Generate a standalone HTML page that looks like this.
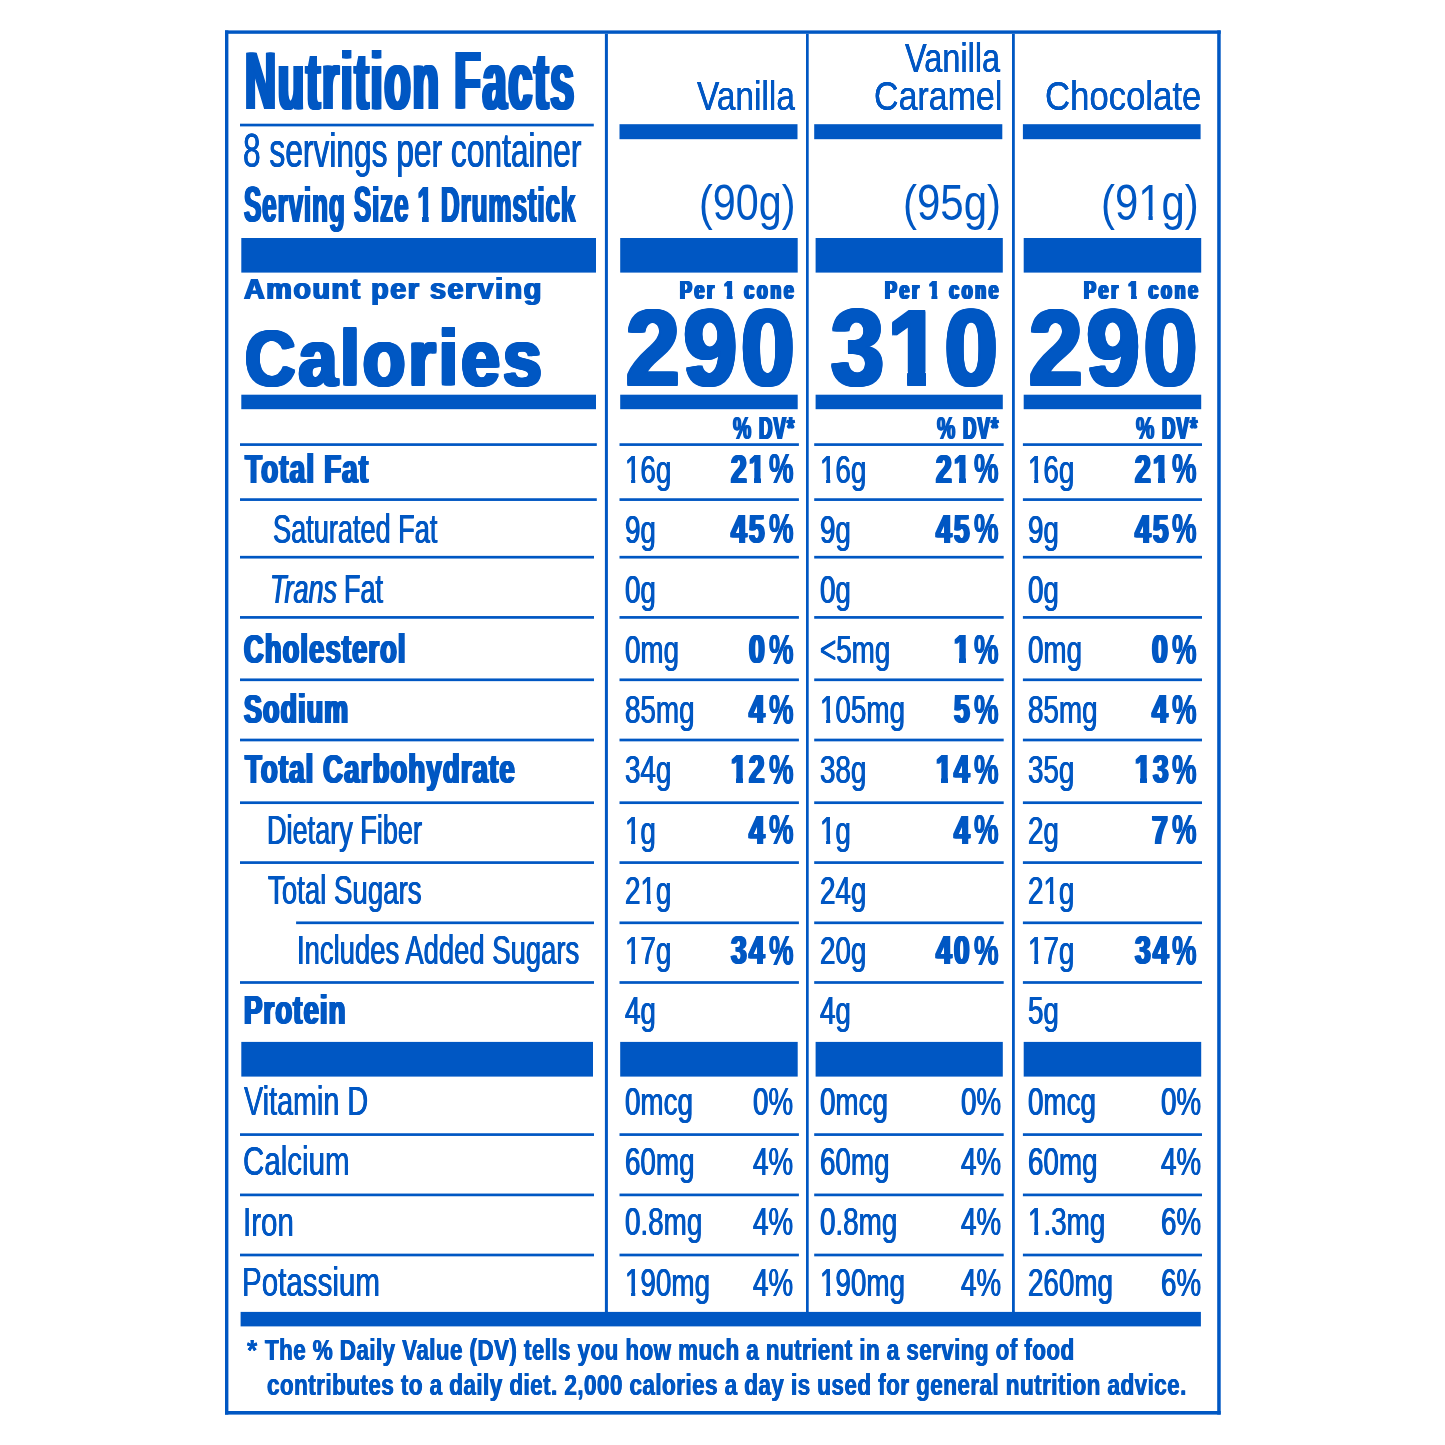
<!DOCTYPE html>
<html lang="en"><head><meta charset="utf-8"><title>Nutrition Facts</title>
<style>
html,body{margin:0;padding:0;background:#fff}
body{width:1445px;height:1445px;position:relative;overflow:hidden;font-family:"Liberation Sans",sans-serif;color:#0057c3}
.t{position:absolute;white-space:nowrap;line-height:1;transform-origin:0 0;color:#0057c3}
.g{position:absolute;left:0;top:0;fill:#0057c3}
.o{display:inline-block}
</style></head><body>
<svg class="g" width="1445" height="1445" viewBox="0 0 1445 1445">
<rect x="225.00" y="30.40" width="995.70" height="3.40"/>
<rect x="225.00" y="1411.00" width="995.70" height="3.60"/>
<rect x="225.00" y="30.40" width="3.40" height="1384.20"/>
<rect x="1217.20" y="30.40" width="3.50" height="1384.20"/>
<rect x="604.90" y="33.80" width="3.00" height="1279.20"/>
<rect x="806.00" y="33.80" width="2.70" height="1279.20"/>
<rect x="1012.00" y="33.80" width="2.80" height="1279.20"/>
<rect x="240.00" y="123.70" width="353.80" height="2.70"/>
<rect x="619.50" y="124.20" width="178.00" height="15.00"/>
<rect x="814.20" y="124.20" width="188.10" height="15.00"/>
<rect x="1022.90" y="124.20" width="177.70" height="15.00"/>
<rect x="241.30" y="238.00" width="354.70" height="34.60"/>
<rect x="620.20" y="238.00" width="177.50" height="34.60"/>
<rect x="815.60" y="238.00" width="187.20" height="34.60"/>
<rect x="1023.70" y="238.00" width="177.50" height="34.60"/>
<rect x="241.30" y="394.70" width="354.70" height="14.50"/>
<rect x="620.20" y="394.70" width="177.50" height="14.50"/>
<rect x="815.60" y="394.70" width="187.20" height="14.50"/>
<rect x="1023.70" y="394.70" width="177.50" height="14.50"/>
<rect x="240.00" y="443.25" width="356.80" height="2.70"/>
<rect x="619.50" y="443.25" width="179.40" height="2.70"/>
<rect x="814.20" y="443.25" width="189.50" height="2.70"/>
<rect x="1022.90" y="443.25" width="179.10" height="2.70"/>
<rect x="240.00" y="498.25" width="356.80" height="2.70"/>
<rect x="619.50" y="498.25" width="179.40" height="2.70"/>
<rect x="814.20" y="498.25" width="189.50" height="2.70"/>
<rect x="1022.90" y="498.25" width="179.10" height="2.70"/>
<rect x="240.00" y="555.85" width="354.00" height="2.70"/>
<rect x="619.50" y="555.85" width="179.40" height="2.70"/>
<rect x="814.20" y="555.85" width="189.50" height="2.70"/>
<rect x="1022.90" y="555.85" width="179.10" height="2.70"/>
<rect x="240.00" y="616.05" width="354.00" height="2.70"/>
<rect x="619.50" y="616.05" width="179.40" height="2.70"/>
<rect x="814.20" y="616.05" width="189.50" height="2.70"/>
<rect x="1022.90" y="616.05" width="179.10" height="2.70"/>
<rect x="240.00" y="678.45" width="354.00" height="2.70"/>
<rect x="619.50" y="678.45" width="179.40" height="2.70"/>
<rect x="814.20" y="678.45" width="189.50" height="2.70"/>
<rect x="1022.90" y="678.45" width="179.10" height="2.70"/>
<rect x="240.00" y="738.65" width="354.00" height="2.70"/>
<rect x="619.50" y="738.65" width="179.40" height="2.70"/>
<rect x="814.20" y="738.65" width="189.50" height="2.70"/>
<rect x="1022.90" y="738.65" width="179.10" height="2.70"/>
<rect x="240.00" y="801.35" width="354.00" height="2.70"/>
<rect x="619.50" y="801.35" width="179.40" height="2.70"/>
<rect x="814.20" y="801.35" width="189.50" height="2.70"/>
<rect x="1022.90" y="801.35" width="179.10" height="2.70"/>
<rect x="240.00" y="861.25" width="354.00" height="2.70"/>
<rect x="619.50" y="861.25" width="179.40" height="2.70"/>
<rect x="814.20" y="861.25" width="189.50" height="2.70"/>
<rect x="1022.90" y="861.25" width="179.10" height="2.70"/>
<rect x="296.10" y="921.45" width="297.90" height="2.70"/>
<rect x="619.50" y="921.45" width="179.40" height="2.70"/>
<rect x="814.20" y="921.45" width="189.50" height="2.70"/>
<rect x="1022.90" y="921.45" width="179.10" height="2.70"/>
<rect x="240.00" y="981.15" width="354.00" height="2.70"/>
<rect x="619.50" y="981.15" width="179.40" height="2.70"/>
<rect x="814.20" y="981.15" width="189.50" height="2.70"/>
<rect x="1022.90" y="981.15" width="179.10" height="2.70"/>
<rect x="241.30" y="1041.90" width="351.70" height="34.70"/>
<rect x="620.20" y="1041.90" width="177.50" height="34.70"/>
<rect x="815.60" y="1041.90" width="187.20" height="34.70"/>
<rect x="1023.70" y="1041.90" width="177.50" height="34.70"/>
<rect x="240.00" y="1133.25" width="354.00" height="2.70"/>
<rect x="619.50" y="1133.25" width="179.40" height="2.70"/>
<rect x="814.20" y="1133.25" width="189.50" height="2.70"/>
<rect x="1022.90" y="1133.25" width="179.10" height="2.70"/>
<rect x="240.00" y="1193.55" width="354.00" height="2.70"/>
<rect x="619.50" y="1193.55" width="179.40" height="2.70"/>
<rect x="814.20" y="1193.55" width="189.50" height="2.70"/>
<rect x="1022.90" y="1193.55" width="179.10" height="2.70"/>
<rect x="240.00" y="1253.65" width="354.00" height="2.70"/>
<rect x="619.50" y="1253.65" width="179.40" height="2.70"/>
<rect x="814.20" y="1253.65" width="189.50" height="2.70"/>
<rect x="1022.90" y="1253.65" width="179.10" height="2.70"/>
<rect x="240.60" y="1311.90" width="960.30" height="14.50"/>
</svg>
<div class="t" style="left:244.65px;top:40.00px;font-size:81.83px;transform:scaleX(0.5255);font-weight:700;text-shadow:3.50px 0.00px 0 #0057c3,-3.50px 0.00px 0 #0057c3,1.75px 0.00px 0 #0057c3,-1.75px 0.00px 0 #0057c3;letter-spacing:3.50px">Nutrition Facts</div>
<div class="t" style="left:243.38px;top:126.00px;font-size:48.57px;transform:scaleX(0.6528);text-shadow:0.57px 0.00px 0 #0057c3,-0.57px 0.00px 0 #0057c3">8 servings per container</div>
<div class="t" style="left:244.07px;top:180.00px;font-size:49.27px;transform:scaleX(0.5286);font-weight:700;text-shadow:1.66px 0.00px 0 #0057c3,-1.66px 0.00px 0 #0057c3,0.83px 0.00px 0 #0057c3,-0.83px 0.00px 0 #0057c3;letter-spacing:1.66px">Serving Size <span class="o" style="clip-path:polygon(-999px -999px,999px -999px,999px 35.77px,20.27px 35.77px,20.27px 999px,9.49px 999px,9.49px 35.77px,-999px 35.77px)">1</span> Drumstick</div>
<div class="t" style="left:243.78px;top:274.00px;font-size:30.23px;transform:scaleX(0.9526);font-weight:700;text-shadow:0.98px 0.00px 0 #0057c3,-0.98px 0.00px 0 #0057c3;letter-spacing:1.57px">Amount per serving</div>
<div class="t" style="left:245.04px;top:319.00px;font-size:78.20px;transform:scaleX(0.8920);font-weight:700;text-shadow:0.00px 1.00px 0 #0057c3,0.00px -1.00px 0 #0057c3,1.92px 0.00px 0 #0057c3,1.92px 1.00px 0 #0057c3,1.92px -1.00px 0 #0057c3,-1.92px 0.00px 0 #0057c3,-1.92px 1.00px 0 #0057c3,-1.92px -1.00px 0 #0057c3,0.96px 0.00px 0 #0057c3,0.96px 1.00px 0 #0057c3,0.96px -1.00px 0 #0057c3,-0.96px 0.00px 0 #0057c3,-0.96px 1.00px 0 #0057c3,-0.96px -1.00px 0 #0057c3;letter-spacing:3.46px">Calories</div>
<div class="t" style="left:696.75px;top:76.00px;font-size:40.55px;transform:scaleX(0.8246);text-shadow:0.18px 0.00px 0 #0057c3,-0.18px 0.00px 0 #0057c3">Vanilla</div>
<div class="t" style="left:905.19px;top:38.00px;font-size:40.55px;transform:scaleX(0.8012);text-shadow:0.23px 0.00px 0 #0057c3,-0.23px 0.00px 0 #0057c3">Vanilla</div>
<div class="t" style="left:874.43px;top:76.00px;font-size:40.55px;transform:scaleX(0.8378);text-shadow:0.14px 0.00px 0 #0057c3,-0.14px 0.00px 0 #0057c3">Caramel</div>
<div class="t" style="left:1044.56px;top:76.00px;font-size:40.55px;transform:scaleX(0.8563);text-shadow:0.10px 0.00px 0 #0057c3,-0.10px 0.00px 0 #0057c3">Chocolate</div>
<div class="t" style="left:698.86px;top:178.00px;font-size:50.43px;transform:scaleX(0.8195)">(90g)</div>
<div class="t" style="left:902.63px;top:178.00px;font-size:50.43px;transform:scaleX(0.8328)">(95g)</div>
<div class="t" style="left:1101.44px;top:178.00px;font-size:50.43px;transform:scaleX(0.8302)">(9<span class="o" style="clip-path:polygon(-999px -999px,999px -999px,999px 37.03px,17.49px 37.03px,17.49px 999px,12.33px 999px,12.33px 37.03px,-999px 37.03px)">1</span>g)</div>
<div class="t" style="left:680.48px;top:277.00px;font-size:26.60px;transform:scaleX(0.6694);font-weight:700;text-shadow:1.79px 0.00px 0 #0057c3,-1.79px 0.00px 0 #0057c3,0.89px 0.00px 0 #0057c3,-0.89px 0.00px 0 #0057c3;letter-spacing:3.93px">Per <span class="o" style="clip-path:polygon(-999px -999px,999px -999px,999px 18.09px,12.00px 18.09px,12.00px 999px,4.07px 999px,4.07px 18.09px,-999px 18.09px)">1</span> cone</div>
<div class="t" style="left:885.49px;top:277.00px;font-size:26.60px;transform:scaleX(0.6672);font-weight:700;text-shadow:1.80px 0.00px 0 #0057c3,-1.80px 0.00px 0 #0057c3,0.90px 0.00px 0 #0057c3,-0.90px 0.00px 0 #0057c3;letter-spacing:3.96px">Per <span class="o" style="clip-path:polygon(-999px -999px,999px -999px,999px 18.09px,12.01px 18.09px,12.01px 999px,4.06px 999px,4.06px 18.09px,-999px 18.09px)">1</span> cone</div>
<div class="t" style="left:1083.67px;top:277.00px;font-size:26.60px;transform:scaleX(0.6726);font-weight:700;text-shadow:1.77px 0.00px 0 #0057c3,-1.77px 0.00px 0 #0057c3,0.89px 0.00px 0 #0057c3,-0.89px 0.00px 0 #0057c3;letter-spacing:3.90px">Per <span class="o" style="clip-path:polygon(-999px -999px,999px -999px,999px 18.09px,11.98px 18.09px,11.98px 999px,4.09px 999px,4.09px 18.09px,-999px 18.09px)">1</span> cone</div>
<div class="t" style="left:625.85px;top:294.00px;font-size:107.85px;transform:scaleX(0.8929);font-weight:700;text-shadow:0.00px 1.00px 0 #0057c3,0.00px -1.00px 0 #0057c3,2.19px 0.00px 0 #0057c3,2.19px 1.00px 0 #0057c3,2.19px -1.00px 0 #0057c3,-2.19px 0.00px 0 #0057c3,-2.19px 1.00px 0 #0057c3,-2.19px -1.00px 0 #0057c3,1.10px 0.00px 0 #0057c3,1.10px 1.00px 0 #0057c3,1.10px -1.00px 0 #0057c3,-1.10px 0.00px 0 #0057c3,-1.10px 1.00px 0 #0057c3,-1.10px -1.00px 0 #0057c3;letter-spacing:4.39px">290</div>
<div class="t" style="left:831.47px;top:294.00px;font-size:107.85px;transform:scaleX(0.8804);font-weight:700;text-shadow:0.00px 1.00px 0 #0057c3,0.00px -1.00px 0 #0057c3,2.33px 0.00px 0 #0057c3,2.33px 1.00px 0 #0057c3,2.33px -1.00px 0 #0057c3,-2.33px 0.00px 0 #0057c3,-2.33px 1.00px 0 #0057c3,-2.33px -1.00px 0 #0057c3,1.17px 0.00px 0 #0057c3,1.17px 1.00px 0 #0057c3,1.17px -1.00px 0 #0057c3,-1.17px 0.00px 0 #0057c3,-1.17px 1.00px 0 #0057c3,-1.17px -1.00px 0 #0057c3;letter-spacing:4.66px">3<span class="o" style="clip-path:polygon(-999px -999px,999px -999px,999px 77.79px,42.65px 77.79px,42.65px 999px,22.49px 999px,22.49px 77.79px,-999px 77.79px)">1</span>0</div>
<div class="t" style="left:1029.37px;top:294.00px;font-size:107.85px;transform:scaleX(0.8913);font-weight:700;text-shadow:0.00px 1.00px 0 #0057c3,0.00px -1.00px 0 #0057c3,2.21px 0.00px 0 #0057c3,2.21px 1.00px 0 #0057c3,2.21px -1.00px 0 #0057c3,-2.21px 0.00px 0 #0057c3,-2.21px 1.00px 0 #0057c3,-2.21px -1.00px 0 #0057c3,1.11px 0.00px 0 #0057c3,1.11px 1.00px 0 #0057c3,1.11px -1.00px 0 #0057c3,-1.11px 0.00px 0 #0057c3,-1.11px 1.00px 0 #0057c3,-1.11px -1.00px 0 #0057c3;letter-spacing:4.42px">290</div>
<div class="t" style="left:733.09px;top:414.00px;font-size:30.86px;transform:scaleX(0.6667);font-weight:700;text-shadow:1.06px 0.00px 0 #0057c3,-1.06px 0.00px 0 #0057c3">%</div>
<div class="t" style="left:758.88px;top:414.00px;font-size:30.81px;transform:scaleX(0.6051);font-weight:700;text-shadow:1.73px 0.00px 0 #0057c3,-1.73px 0.00px 0 #0057c3,0.86px 0.00px 0 #0057c3,-0.86px 0.00px 0 #0057c3;letter-spacing:1.73px">DV*</div>
<div class="t" style="left:937.39px;top:414.00px;font-size:30.86px;transform:scaleX(0.6667);font-weight:700;text-shadow:1.06px 0.00px 0 #0057c3,-1.06px 0.00px 0 #0057c3">%</div>
<div class="t" style="left:963.18px;top:414.00px;font-size:30.81px;transform:scaleX(0.6051);font-weight:700;text-shadow:1.73px 0.00px 0 #0057c3,-1.73px 0.00px 0 #0057c3,0.86px 0.00px 0 #0057c3,-0.86px 0.00px 0 #0057c3;letter-spacing:1.73px">DV*</div>
<div class="t" style="left:1135.99px;top:414.00px;font-size:30.86px;transform:scaleX(0.6667);font-weight:700;text-shadow:1.06px 0.00px 0 #0057c3,-1.06px 0.00px 0 #0057c3">%</div>
<div class="t" style="left:1161.78px;top:414.00px;font-size:30.81px;transform:scaleX(0.6051);font-weight:700;text-shadow:1.73px 0.00px 0 #0057c3,-1.73px 0.00px 0 #0057c3,0.86px 0.00px 0 #0057c3,-0.86px 0.00px 0 #0057c3;letter-spacing:1.73px">DV*</div>
<div class="t" style="left:244.79px;top:449.00px;font-size:40.55px;transform:scaleX(0.6894);font-weight:700;text-shadow:1.59px 0.00px 0 #0057c3,-1.59px 0.00px 0 #0057c3;letter-spacing:1.59px">Total Fat</div>
<div class="t" style="left:625.40px;top:450.00px;font-size:39.43px;transform:scaleX(0.7050);text-shadow:0.57px 0.00px 0 #0057c3,-0.57px 0.00px 0 #0057c3"><span class="o" style="clip-path:polygon(-999px -999px,999px -999px,999px 28.85px,14.32px 28.85px,14.32px 999px,9.00px 999px,9.00px 28.85px,-999px 28.85px)">1</span>6g</div>
<div class="t" style="left:731.43px;top:449.00px;font-size:40.41px;transform:scaleX(0.7000);font-weight:700;text-shadow:1.67px 0.00px 0 #0057c3,-1.67px 0.00px 0 #0057c3,0.84px 0.00px 0 #0057c3,-0.84px 0.00px 0 #0057c3;letter-spacing:3.01px">2<span class="o" style="clip-path:polygon(-999px -999px,999px -999px,999px 28.68px,17.00px 28.68px,17.00px 999px,7.41px 999px,7.41px 28.68px,-999px 28.68px)">1</span></div>
<div class="t" style="left:768.98px;top:448.00px;font-size:42.00px;transform:scaleX(0.6586);font-weight:700;text-shadow:0.78px 0.00px 0 #0057c3,-0.78px 0.00px 0 #0057c3">%</div>
<div class="t" style="left:820.30px;top:450.00px;font-size:39.43px;transform:scaleX(0.7050);text-shadow:0.57px 0.00px 0 #0057c3,-0.57px 0.00px 0 #0057c3"><span class="o" style="clip-path:polygon(-999px -999px,999px -999px,999px 28.85px,14.32px 28.85px,14.32px 999px,9.00px 999px,9.00px 28.85px,-999px 28.85px)">1</span>6g</div>
<div class="t" style="left:936.03px;top:449.00px;font-size:40.41px;transform:scaleX(0.7000);font-weight:700;text-shadow:1.67px 0.00px 0 #0057c3,-1.67px 0.00px 0 #0057c3,0.84px 0.00px 0 #0057c3,-0.84px 0.00px 0 #0057c3;letter-spacing:3.01px">2<span class="o" style="clip-path:polygon(-999px -999px,999px -999px,999px 28.68px,17.00px 28.68px,17.00px 999px,7.41px 999px,7.41px 28.68px,-999px 28.68px)">1</span></div>
<div class="t" style="left:973.58px;top:448.00px;font-size:42.00px;transform:scaleX(0.6586);font-weight:700;text-shadow:0.78px 0.00px 0 #0057c3,-0.78px 0.00px 0 #0057c3">%</div>
<div class="t" style="left:1028.30px;top:450.00px;font-size:39.43px;transform:scaleX(0.7050);text-shadow:0.57px 0.00px 0 #0057c3,-0.57px 0.00px 0 #0057c3"><span class="o" style="clip-path:polygon(-999px -999px,999px -999px,999px 28.85px,14.32px 28.85px,14.32px 999px,9.00px 999px,9.00px 28.85px,-999px 28.85px)">1</span>6g</div>
<div class="t" style="left:1134.63px;top:449.00px;font-size:40.41px;transform:scaleX(0.7000);font-weight:700;text-shadow:1.67px 0.00px 0 #0057c3,-1.67px 0.00px 0 #0057c3,0.84px 0.00px 0 #0057c3,-0.84px 0.00px 0 #0057c3;letter-spacing:3.01px">2<span class="o" style="clip-path:polygon(-999px -999px,999px -999px,999px 28.68px,17.00px 28.68px,17.00px 999px,7.41px 999px,7.41px 28.68px,-999px 28.68px)">1</span></div>
<div class="t" style="left:1172.18px;top:448.00px;font-size:42.00px;transform:scaleX(0.6586);font-weight:700;text-shadow:0.78px 0.00px 0 #0057c3,-0.78px 0.00px 0 #0057c3">%</div>
<div class="t" style="left:272.98px;top:509.00px;font-size:40.55px;transform:scaleX(0.6691);text-shadow:0.64px 0.00px 0 #0057c3,-0.64px 0.00px 0 #0057c3">Saturated Fat</div>
<div class="t" style="left:625.40px;top:510.00px;font-size:39.43px;transform:scaleX(0.7050);text-shadow:0.57px 0.00px 0 #0057c3,-0.57px 0.00px 0 #0057c3">9g</div>
<div class="t" style="left:731.43px;top:509.00px;font-size:40.41px;transform:scaleX(0.7000);font-weight:700;text-shadow:1.67px 0.00px 0 #0057c3,-1.67px 0.00px 0 #0057c3,0.84px 0.00px 0 #0057c3,-0.84px 0.00px 0 #0057c3;letter-spacing:3.01px">45</div>
<div class="t" style="left:768.98px;top:508.00px;font-size:42.00px;transform:scaleX(0.6586);font-weight:700;text-shadow:0.78px 0.00px 0 #0057c3,-0.78px 0.00px 0 #0057c3">%</div>
<div class="t" style="left:820.30px;top:510.00px;font-size:39.43px;transform:scaleX(0.7050);text-shadow:0.57px 0.00px 0 #0057c3,-0.57px 0.00px 0 #0057c3">9g</div>
<div class="t" style="left:936.03px;top:509.00px;font-size:40.41px;transform:scaleX(0.7000);font-weight:700;text-shadow:1.67px 0.00px 0 #0057c3,-1.67px 0.00px 0 #0057c3,0.84px 0.00px 0 #0057c3,-0.84px 0.00px 0 #0057c3;letter-spacing:3.01px">45</div>
<div class="t" style="left:973.58px;top:508.00px;font-size:42.00px;transform:scaleX(0.6586);font-weight:700;text-shadow:0.78px 0.00px 0 #0057c3,-0.78px 0.00px 0 #0057c3">%</div>
<div class="t" style="left:1028.30px;top:510.00px;font-size:39.43px;transform:scaleX(0.7050);text-shadow:0.57px 0.00px 0 #0057c3,-0.57px 0.00px 0 #0057c3">9g</div>
<div class="t" style="left:1134.63px;top:509.00px;font-size:40.41px;transform:scaleX(0.7000);font-weight:700;text-shadow:1.67px 0.00px 0 #0057c3,-1.67px 0.00px 0 #0057c3,0.84px 0.00px 0 #0057c3,-0.84px 0.00px 0 #0057c3;letter-spacing:3.01px">45</div>
<div class="t" style="left:1172.18px;top:508.00px;font-size:42.00px;transform:scaleX(0.6586);font-weight:700;text-shadow:0.78px 0.00px 0 #0057c3,-0.78px 0.00px 0 #0057c3">%</div>
<div class="t" style="left:269.53px;top:569.00px;font-size:40.55px;transform:scaleX(0.6653);font-style:italic;text-shadow:0.66px 0.00px 0 #0057c3,-0.66px 0.00px 0 #0057c3">Trans</div>
<div class="t" style="left:343.83px;top:569.00px;font-size:40.55px;transform:scaleX(0.6646);text-shadow:0.66px 0.00px 0 #0057c3,-0.66px 0.00px 0 #0057c3">Fat</div>
<div class="t" style="left:625.40px;top:570.00px;font-size:39.43px;transform:scaleX(0.7050);text-shadow:0.57px 0.00px 0 #0057c3,-0.57px 0.00px 0 #0057c3">0g</div>
<div class="t" style="left:820.30px;top:570.00px;font-size:39.43px;transform:scaleX(0.7050);text-shadow:0.57px 0.00px 0 #0057c3,-0.57px 0.00px 0 #0057c3">0g</div>
<div class="t" style="left:1028.30px;top:570.00px;font-size:39.43px;transform:scaleX(0.7050);text-shadow:0.57px 0.00px 0 #0057c3,-0.57px 0.00px 0 #0057c3">0g</div>
<div class="t" style="left:243.79px;top:629.00px;font-size:40.55px;transform:scaleX(0.6733);font-weight:700;text-shadow:1.69px 0.00px 0 #0057c3,-1.69px 0.00px 0 #0057c3,0.85px 0.00px 0 #0057c3,-0.85px 0.00px 0 #0057c3;letter-spacing:1.69px">Cholesterol</div>
<div class="t" style="left:625.40px;top:630.00px;font-size:39.43px;transform:scaleX(0.7050);text-shadow:0.57px 0.00px 0 #0057c3,-0.57px 0.00px 0 #0057c3">0mg</div>
<div class="t" style="left:749.26px;top:629.00px;font-size:40.41px;transform:scaleX(0.7000);font-weight:700;text-shadow:1.67px 0.00px 0 #0057c3,-1.67px 0.00px 0 #0057c3,0.84px 0.00px 0 #0057c3,-0.84px 0.00px 0 #0057c3;letter-spacing:3.01px">0</div>
<div class="t" style="left:768.98px;top:629.00px;font-size:42.00px;transform:scaleX(0.6586);font-weight:700;text-shadow:0.78px 0.00px 0 #0057c3,-0.78px 0.00px 0 #0057c3">%</div>
<div class="t" style="left:820.30px;top:630.00px;font-size:39.43px;transform:scaleX(0.7050);text-shadow:0.57px 0.00px 0 #0057c3,-0.57px 0.00px 0 #0057c3">&lt;5mg</div>
<div class="t" style="left:953.86px;top:629.00px;font-size:40.41px;transform:scaleX(0.7000);font-weight:700;text-shadow:1.67px 0.00px 0 #0057c3,-1.67px 0.00px 0 #0057c3,0.84px 0.00px 0 #0057c3,-0.84px 0.00px 0 #0057c3;letter-spacing:3.01px"><span class="o" style="clip-path:polygon(-999px -999px,999px -999px,999px 28.68px,17.00px 28.68px,17.00px 999px,7.41px 999px,7.41px 28.68px,-999px 28.68px)">1</span></div>
<div class="t" style="left:973.58px;top:629.00px;font-size:42.00px;transform:scaleX(0.6586);font-weight:700;text-shadow:0.78px 0.00px 0 #0057c3,-0.78px 0.00px 0 #0057c3">%</div>
<div class="t" style="left:1028.30px;top:630.00px;font-size:39.43px;transform:scaleX(0.7050);text-shadow:0.57px 0.00px 0 #0057c3,-0.57px 0.00px 0 #0057c3">0mg</div>
<div class="t" style="left:1152.46px;top:629.00px;font-size:40.41px;transform:scaleX(0.7000);font-weight:700;text-shadow:1.67px 0.00px 0 #0057c3,-1.67px 0.00px 0 #0057c3,0.84px 0.00px 0 #0057c3,-0.84px 0.00px 0 #0057c3;letter-spacing:3.01px">0</div>
<div class="t" style="left:1172.18px;top:629.00px;font-size:42.00px;transform:scaleX(0.6586);font-weight:700;text-shadow:0.78px 0.00px 0 #0057c3,-0.78px 0.00px 0 #0057c3">%</div>
<div class="t" style="left:244.26px;top:689.00px;font-size:40.55px;transform:scaleX(0.6607);font-weight:700;text-shadow:1.78px 0.00px 0 #0057c3,-1.78px 0.00px 0 #0057c3,0.89px 0.00px 0 #0057c3,-0.89px 0.00px 0 #0057c3;letter-spacing:1.78px">Sodium</div>
<div class="t" style="left:625.40px;top:690.00px;font-size:39.43px;transform:scaleX(0.7050);text-shadow:0.57px 0.00px 0 #0057c3,-0.57px 0.00px 0 #0057c3">85mg</div>
<div class="t" style="left:749.26px;top:689.00px;font-size:40.41px;transform:scaleX(0.7000);font-weight:700;text-shadow:1.67px 0.00px 0 #0057c3,-1.67px 0.00px 0 #0057c3,0.84px 0.00px 0 #0057c3,-0.84px 0.00px 0 #0057c3;letter-spacing:3.01px">4</div>
<div class="t" style="left:768.98px;top:689.00px;font-size:42.00px;transform:scaleX(0.6586);font-weight:700;text-shadow:0.78px 0.00px 0 #0057c3,-0.78px 0.00px 0 #0057c3">%</div>
<div class="t" style="left:820.30px;top:690.00px;font-size:39.43px;transform:scaleX(0.7050);text-shadow:0.57px 0.00px 0 #0057c3,-0.57px 0.00px 0 #0057c3"><span class="o" style="clip-path:polygon(-999px -999px,999px -999px,999px 28.85px,14.32px 28.85px,14.32px 999px,9.00px 999px,9.00px 28.85px,-999px 28.85px)">1</span>05mg</div>
<div class="t" style="left:953.86px;top:689.00px;font-size:40.41px;transform:scaleX(0.7000);font-weight:700;text-shadow:1.67px 0.00px 0 #0057c3,-1.67px 0.00px 0 #0057c3,0.84px 0.00px 0 #0057c3,-0.84px 0.00px 0 #0057c3;letter-spacing:3.01px">5</div>
<div class="t" style="left:973.58px;top:689.00px;font-size:42.00px;transform:scaleX(0.6586);font-weight:700;text-shadow:0.78px 0.00px 0 #0057c3,-0.78px 0.00px 0 #0057c3">%</div>
<div class="t" style="left:1028.30px;top:690.00px;font-size:39.43px;transform:scaleX(0.7050);text-shadow:0.57px 0.00px 0 #0057c3,-0.57px 0.00px 0 #0057c3">85mg</div>
<div class="t" style="left:1152.46px;top:689.00px;font-size:40.41px;transform:scaleX(0.7000);font-weight:700;text-shadow:1.67px 0.00px 0 #0057c3,-1.67px 0.00px 0 #0057c3,0.84px 0.00px 0 #0057c3,-0.84px 0.00px 0 #0057c3;letter-spacing:3.01px">4</div>
<div class="t" style="left:1172.18px;top:689.00px;font-size:42.00px;transform:scaleX(0.6586);font-weight:700;text-shadow:0.78px 0.00px 0 #0057c3,-0.78px 0.00px 0 #0057c3">%</div>
<div class="t" style="left:244.62px;top:749.00px;font-size:40.55px;transform:scaleX(0.6798);font-weight:700;text-shadow:1.65px 0.00px 0 #0057c3,-1.65px 0.00px 0 #0057c3,0.82px 0.00px 0 #0057c3,-0.82px 0.00px 0 #0057c3;letter-spacing:1.65px">Total Carbohydrate</div>
<div class="t" style="left:625.40px;top:750.00px;font-size:39.43px;transform:scaleX(0.7050);text-shadow:0.57px 0.00px 0 #0057c3,-0.57px 0.00px 0 #0057c3">34g</div>
<div class="t" style="left:731.43px;top:749.00px;font-size:40.41px;transform:scaleX(0.7000);font-weight:700;text-shadow:1.67px 0.00px 0 #0057c3,-1.67px 0.00px 0 #0057c3,0.84px 0.00px 0 #0057c3,-0.84px 0.00px 0 #0057c3;letter-spacing:3.01px"><span class="o" style="clip-path:polygon(-999px -999px,999px -999px,999px 28.68px,17.00px 28.68px,17.00px 999px,7.41px 999px,7.41px 28.68px,-999px 28.68px)">1</span>2</div>
<div class="t" style="left:768.98px;top:749.00px;font-size:42.00px;transform:scaleX(0.6586);font-weight:700;text-shadow:0.78px 0.00px 0 #0057c3,-0.78px 0.00px 0 #0057c3">%</div>
<div class="t" style="left:820.30px;top:750.00px;font-size:39.43px;transform:scaleX(0.7050);text-shadow:0.57px 0.00px 0 #0057c3,-0.57px 0.00px 0 #0057c3">38g</div>
<div class="t" style="left:936.03px;top:749.00px;font-size:40.41px;transform:scaleX(0.7000);font-weight:700;text-shadow:1.67px 0.00px 0 #0057c3,-1.67px 0.00px 0 #0057c3,0.84px 0.00px 0 #0057c3,-0.84px 0.00px 0 #0057c3;letter-spacing:3.01px"><span class="o" style="clip-path:polygon(-999px -999px,999px -999px,999px 28.68px,17.00px 28.68px,17.00px 999px,7.41px 999px,7.41px 28.68px,-999px 28.68px)">1</span>4</div>
<div class="t" style="left:973.58px;top:749.00px;font-size:42.00px;transform:scaleX(0.6586);font-weight:700;text-shadow:0.78px 0.00px 0 #0057c3,-0.78px 0.00px 0 #0057c3">%</div>
<div class="t" style="left:1028.30px;top:750.00px;font-size:39.43px;transform:scaleX(0.7050);text-shadow:0.57px 0.00px 0 #0057c3,-0.57px 0.00px 0 #0057c3">35g</div>
<div class="t" style="left:1134.63px;top:749.00px;font-size:40.41px;transform:scaleX(0.7000);font-weight:700;text-shadow:1.67px 0.00px 0 #0057c3,-1.67px 0.00px 0 #0057c3,0.84px 0.00px 0 #0057c3,-0.84px 0.00px 0 #0057c3;letter-spacing:3.01px"><span class="o" style="clip-path:polygon(-999px -999px,999px -999px,999px 28.68px,17.00px 28.68px,17.00px 999px,7.41px 999px,7.41px 28.68px,-999px 28.68px)">1</span>3</div>
<div class="t" style="left:1172.18px;top:749.00px;font-size:42.00px;transform:scaleX(0.6586);font-weight:700;text-shadow:0.78px 0.00px 0 #0057c3,-0.78px 0.00px 0 #0057c3">%</div>
<div class="t" style="left:266.72px;top:810.00px;font-size:40.55px;transform:scaleX(0.6677);text-shadow:0.65px 0.00px 0 #0057c3,-0.65px 0.00px 0 #0057c3">Dietary Fiber</div>
<div class="t" style="left:625.40px;top:811.00px;font-size:39.43px;transform:scaleX(0.7050);text-shadow:0.57px 0.00px 0 #0057c3,-0.57px 0.00px 0 #0057c3"><span class="o" style="clip-path:polygon(-999px -999px,999px -999px,999px 28.85px,14.32px 28.85px,14.32px 999px,9.00px 999px,9.00px 28.85px,-999px 28.85px)">1</span>g</div>
<div class="t" style="left:749.26px;top:810.00px;font-size:40.41px;transform:scaleX(0.7000);font-weight:700;text-shadow:1.67px 0.00px 0 #0057c3,-1.67px 0.00px 0 #0057c3,0.84px 0.00px 0 #0057c3,-0.84px 0.00px 0 #0057c3;letter-spacing:3.01px">4</div>
<div class="t" style="left:768.98px;top:809.00px;font-size:42.00px;transform:scaleX(0.6586);font-weight:700;text-shadow:0.78px 0.00px 0 #0057c3,-0.78px 0.00px 0 #0057c3">%</div>
<div class="t" style="left:820.30px;top:811.00px;font-size:39.43px;transform:scaleX(0.7050);text-shadow:0.57px 0.00px 0 #0057c3,-0.57px 0.00px 0 #0057c3"><span class="o" style="clip-path:polygon(-999px -999px,999px -999px,999px 28.85px,14.32px 28.85px,14.32px 999px,9.00px 999px,9.00px 28.85px,-999px 28.85px)">1</span>g</div>
<div class="t" style="left:953.86px;top:810.00px;font-size:40.41px;transform:scaleX(0.7000);font-weight:700;text-shadow:1.67px 0.00px 0 #0057c3,-1.67px 0.00px 0 #0057c3,0.84px 0.00px 0 #0057c3,-0.84px 0.00px 0 #0057c3;letter-spacing:3.01px">4</div>
<div class="t" style="left:973.58px;top:809.00px;font-size:42.00px;transform:scaleX(0.6586);font-weight:700;text-shadow:0.78px 0.00px 0 #0057c3,-0.78px 0.00px 0 #0057c3">%</div>
<div class="t" style="left:1028.30px;top:811.00px;font-size:39.43px;transform:scaleX(0.7050);text-shadow:0.57px 0.00px 0 #0057c3,-0.57px 0.00px 0 #0057c3">2g</div>
<div class="t" style="left:1152.46px;top:810.00px;font-size:40.41px;transform:scaleX(0.7000);font-weight:700;text-shadow:1.67px 0.00px 0 #0057c3,-1.67px 0.00px 0 #0057c3,0.84px 0.00px 0 #0057c3,-0.84px 0.00px 0 #0057c3;letter-spacing:3.01px">7</div>
<div class="t" style="left:1172.18px;top:809.00px;font-size:42.00px;transform:scaleX(0.6586);font-weight:700;text-shadow:0.78px 0.00px 0 #0057c3,-0.78px 0.00px 0 #0057c3">%</div>
<div class="t" style="left:267.57px;top:870.00px;font-size:40.55px;transform:scaleX(0.6813);text-shadow:0.60px 0.00px 0 #0057c3,-0.60px 0.00px 0 #0057c3">Total Sugars</div>
<div class="t" style="left:625.40px;top:871.00px;font-size:39.43px;transform:scaleX(0.7050);text-shadow:0.57px 0.00px 0 #0057c3,-0.57px 0.00px 0 #0057c3">2<span class="o" style="clip-path:polygon(-999px -999px,999px -999px,999px 28.85px,14.32px 28.85px,14.32px 999px,9.00px 999px,9.00px 28.85px,-999px 28.85px)">1</span>g</div>
<div class="t" style="left:820.30px;top:871.00px;font-size:39.43px;transform:scaleX(0.7050);text-shadow:0.57px 0.00px 0 #0057c3,-0.57px 0.00px 0 #0057c3">24g</div>
<div class="t" style="left:1028.30px;top:871.00px;font-size:39.43px;transform:scaleX(0.7050);text-shadow:0.57px 0.00px 0 #0057c3,-0.57px 0.00px 0 #0057c3">2<span class="o" style="clip-path:polygon(-999px -999px,999px -999px,999px 28.85px,14.32px 28.85px,14.32px 999px,9.00px 999px,9.00px 28.85px,-999px 28.85px)">1</span>g</div>
<div class="t" style="left:296.57px;top:930.00px;font-size:40.55px;transform:scaleX(0.6767);text-shadow:0.61px 0.00px 0 #0057c3,-0.61px 0.00px 0 #0057c3">Includes Added Sugars</div>
<div class="t" style="left:625.40px;top:931.00px;font-size:39.43px;transform:scaleX(0.7050);text-shadow:0.57px 0.00px 0 #0057c3,-0.57px 0.00px 0 #0057c3"><span class="o" style="clip-path:polygon(-999px -999px,999px -999px,999px 28.85px,14.32px 28.85px,14.32px 999px,9.00px 999px,9.00px 28.85px,-999px 28.85px)">1</span>7g</div>
<div class="t" style="left:731.43px;top:930.00px;font-size:40.41px;transform:scaleX(0.7000);font-weight:700;text-shadow:1.67px 0.00px 0 #0057c3,-1.67px 0.00px 0 #0057c3,0.84px 0.00px 0 #0057c3,-0.84px 0.00px 0 #0057c3;letter-spacing:3.01px">34</div>
<div class="t" style="left:768.98px;top:930.00px;font-size:42.00px;transform:scaleX(0.6586);font-weight:700;text-shadow:0.78px 0.00px 0 #0057c3,-0.78px 0.00px 0 #0057c3">%</div>
<div class="t" style="left:820.30px;top:931.00px;font-size:39.43px;transform:scaleX(0.7050);text-shadow:0.57px 0.00px 0 #0057c3,-0.57px 0.00px 0 #0057c3">20g</div>
<div class="t" style="left:936.03px;top:930.00px;font-size:40.41px;transform:scaleX(0.7000);font-weight:700;text-shadow:1.67px 0.00px 0 #0057c3,-1.67px 0.00px 0 #0057c3,0.84px 0.00px 0 #0057c3,-0.84px 0.00px 0 #0057c3;letter-spacing:3.01px">40</div>
<div class="t" style="left:973.58px;top:930.00px;font-size:42.00px;transform:scaleX(0.6586);font-weight:700;text-shadow:0.78px 0.00px 0 #0057c3,-0.78px 0.00px 0 #0057c3">%</div>
<div class="t" style="left:1028.30px;top:931.00px;font-size:39.43px;transform:scaleX(0.7050);text-shadow:0.57px 0.00px 0 #0057c3,-0.57px 0.00px 0 #0057c3"><span class="o" style="clip-path:polygon(-999px -999px,999px -999px,999px 28.85px,14.32px 28.85px,14.32px 999px,9.00px 999px,9.00px 28.85px,-999px 28.85px)">1</span>7g</div>
<div class="t" style="left:1134.63px;top:930.00px;font-size:40.41px;transform:scaleX(0.7000);font-weight:700;text-shadow:1.67px 0.00px 0 #0057c3,-1.67px 0.00px 0 #0057c3,0.84px 0.00px 0 #0057c3,-0.84px 0.00px 0 #0057c3;letter-spacing:3.01px">34</div>
<div class="t" style="left:1172.18px;top:930.00px;font-size:42.00px;transform:scaleX(0.6586);font-weight:700;text-shadow:0.78px 0.00px 0 #0057c3,-0.78px 0.00px 0 #0057c3">%</div>
<div class="t" style="left:243.81px;top:990.00px;font-size:40.55px;transform:scaleX(0.6783);font-weight:700;text-shadow:1.66px 0.00px 0 #0057c3,-1.66px 0.00px 0 #0057c3,0.83px 0.00px 0 #0057c3,-0.83px 0.00px 0 #0057c3;letter-spacing:1.66px">Protein</div>
<div class="t" style="left:625.40px;top:991.00px;font-size:39.43px;transform:scaleX(0.7050);text-shadow:0.57px 0.00px 0 #0057c3,-0.57px 0.00px 0 #0057c3">4g</div>
<div class="t" style="left:820.30px;top:991.00px;font-size:39.43px;transform:scaleX(0.7050);text-shadow:0.57px 0.00px 0 #0057c3,-0.57px 0.00px 0 #0057c3">4g</div>
<div class="t" style="left:1028.30px;top:991.00px;font-size:39.43px;transform:scaleX(0.7050);text-shadow:0.57px 0.00px 0 #0057c3,-0.57px 0.00px 0 #0057c3">5g</div>
<div class="t" style="left:243.86px;top:1081.00px;font-size:40.55px;transform:scaleX(0.7089);text-shadow:0.50px 0.00px 0 #0057c3,-0.50px 0.00px 0 #0057c3">Vitamin D</div>
<div class="t" style="left:625.40px;top:1082.00px;font-size:39.43px;transform:scaleX(0.7050);text-shadow:0.57px 0.00px 0 #0057c3,-0.57px 0.00px 0 #0057c3">0mcg</div>
<div class="t" style="left:753.25px;top:1082.00px;font-size:39.43px;transform:scaleX(0.7050);text-shadow:0.57px 0.00px 0 #0057c3,-0.57px 0.00px 0 #0057c3">0%</div>
<div class="t" style="left:820.30px;top:1082.00px;font-size:39.43px;transform:scaleX(0.7050);text-shadow:0.57px 0.00px 0 #0057c3,-0.57px 0.00px 0 #0057c3">0mcg</div>
<div class="t" style="left:961.45px;top:1082.00px;font-size:39.43px;transform:scaleX(0.7050);text-shadow:0.57px 0.00px 0 #0057c3,-0.57px 0.00px 0 #0057c3">0%</div>
<div class="t" style="left:1028.30px;top:1082.00px;font-size:39.43px;transform:scaleX(0.7050);text-shadow:0.57px 0.00px 0 #0057c3,-0.57px 0.00px 0 #0057c3">0mcg</div>
<div class="t" style="left:1161.25px;top:1082.00px;font-size:39.43px;transform:scaleX(0.7050);text-shadow:0.57px 0.00px 0 #0057c3,-0.57px 0.00px 0 #0057c3">0%</div>
<div class="t" style="left:243.34px;top:1141.00px;font-size:40.55px;transform:scaleX(0.7276);text-shadow:0.44px 0.00px 0 #0057c3,-0.44px 0.00px 0 #0057c3">Calcium</div>
<div class="t" style="left:625.40px;top:1142.00px;font-size:39.43px;transform:scaleX(0.7050);text-shadow:0.57px 0.00px 0 #0057c3,-0.57px 0.00px 0 #0057c3">60mg</div>
<div class="t" style="left:753.25px;top:1142.00px;font-size:39.43px;transform:scaleX(0.7050);text-shadow:0.57px 0.00px 0 #0057c3,-0.57px 0.00px 0 #0057c3">4%</div>
<div class="t" style="left:820.30px;top:1142.00px;font-size:39.43px;transform:scaleX(0.7050);text-shadow:0.57px 0.00px 0 #0057c3,-0.57px 0.00px 0 #0057c3">60mg</div>
<div class="t" style="left:961.45px;top:1142.00px;font-size:39.43px;transform:scaleX(0.7050);text-shadow:0.57px 0.00px 0 #0057c3,-0.57px 0.00px 0 #0057c3">4%</div>
<div class="t" style="left:1028.30px;top:1142.00px;font-size:39.43px;transform:scaleX(0.7050);text-shadow:0.57px 0.00px 0 #0057c3,-0.57px 0.00px 0 #0057c3">60mg</div>
<div class="t" style="left:1161.25px;top:1142.00px;font-size:39.43px;transform:scaleX(0.7050);text-shadow:0.57px 0.00px 0 #0057c3,-0.57px 0.00px 0 #0057c3">4%</div>
<div class="t" style="left:242.91px;top:1202.00px;font-size:40.55px;transform:scaleX(0.7288);text-shadow:0.44px 0.00px 0 #0057c3,-0.44px 0.00px 0 #0057c3">Iron</div>
<div class="t" style="left:625.40px;top:1202.00px;font-size:39.43px;transform:scaleX(0.7050);text-shadow:0.57px 0.00px 0 #0057c3,-0.57px 0.00px 0 #0057c3">0.8mg</div>
<div class="t" style="left:753.25px;top:1202.00px;font-size:39.43px;transform:scaleX(0.7050);text-shadow:0.57px 0.00px 0 #0057c3,-0.57px 0.00px 0 #0057c3">4%</div>
<div class="t" style="left:820.30px;top:1202.00px;font-size:39.43px;transform:scaleX(0.7050);text-shadow:0.57px 0.00px 0 #0057c3,-0.57px 0.00px 0 #0057c3">0.8mg</div>
<div class="t" style="left:961.45px;top:1202.00px;font-size:39.43px;transform:scaleX(0.7050);text-shadow:0.57px 0.00px 0 #0057c3,-0.57px 0.00px 0 #0057c3">4%</div>
<div class="t" style="left:1028.30px;top:1202.00px;font-size:39.43px;transform:scaleX(0.7050);text-shadow:0.57px 0.00px 0 #0057c3,-0.57px 0.00px 0 #0057c3"><span class="o" style="clip-path:polygon(-999px -999px,999px -999px,999px 28.85px,14.32px 28.85px,14.32px 999px,9.00px 999px,9.00px 28.85px,-999px 28.85px)">1</span>.3mg</div>
<div class="t" style="left:1161.25px;top:1202.00px;font-size:39.43px;transform:scaleX(0.7050);text-shadow:0.57px 0.00px 0 #0057c3,-0.57px 0.00px 0 #0057c3">6%</div>
<div class="t" style="left:242.41px;top:1262.00px;font-size:40.55px;transform:scaleX(0.7289);text-shadow:0.44px 0.00px 0 #0057c3,-0.44px 0.00px 0 #0057c3">Potassium</div>
<div class="t" style="left:625.40px;top:1263.00px;font-size:39.43px;transform:scaleX(0.7050);text-shadow:0.57px 0.00px 0 #0057c3,-0.57px 0.00px 0 #0057c3"><span class="o" style="clip-path:polygon(-999px -999px,999px -999px,999px 28.85px,14.32px 28.85px,14.32px 999px,9.00px 999px,9.00px 28.85px,-999px 28.85px)">1</span>90mg</div>
<div class="t" style="left:753.25px;top:1263.00px;font-size:39.43px;transform:scaleX(0.7050);text-shadow:0.57px 0.00px 0 #0057c3,-0.57px 0.00px 0 #0057c3">4%</div>
<div class="t" style="left:820.30px;top:1263.00px;font-size:39.43px;transform:scaleX(0.7050);text-shadow:0.57px 0.00px 0 #0057c3,-0.57px 0.00px 0 #0057c3"><span class="o" style="clip-path:polygon(-999px -999px,999px -999px,999px 28.85px,14.32px 28.85px,14.32px 999px,9.00px 999px,9.00px 28.85px,-999px 28.85px)">1</span>90mg</div>
<div class="t" style="left:961.45px;top:1263.00px;font-size:39.43px;transform:scaleX(0.7050);text-shadow:0.57px 0.00px 0 #0057c3,-0.57px 0.00px 0 #0057c3">4%</div>
<div class="t" style="left:1028.30px;top:1263.00px;font-size:39.43px;transform:scaleX(0.7050);text-shadow:0.57px 0.00px 0 #0057c3,-0.57px 0.00px 0 #0057c3">260mg</div>
<div class="t" style="left:1161.25px;top:1263.00px;font-size:39.43px;transform:scaleX(0.7050);text-shadow:0.57px 0.00px 0 #0057c3,-0.57px 0.00px 0 #0057c3">6%</div>
<div class="t" style="left:246.96px;top:1336.00px;font-size:28.92px;transform:scaleX(0.9105);font-weight:700;text-shadow:0.17px 0.00px 0 #0057c3,-0.17px 0.00px 0 #0057c3;letter-spacing:0.17px">*</div>
<div class="t" style="left:265.03px;top:1336.00px;font-size:28.92px;transform:scaleX(0.7755);font-weight:700;text-shadow:0.55px 0.00px 0 #0057c3,-0.55px 0.00px 0 #0057c3;letter-spacing:0.55px">The % Daily Value (DV) tells you how much a nutrient in a serving of food</div>
<div class="t" style="left:266.52px;top:1371.00px;font-size:28.92px;transform:scaleX(0.7782);font-weight:700;text-shadow:0.55px 0.00px 0 #0057c3,-0.55px 0.00px 0 #0057c3;letter-spacing:0.55px">contributes to a daily diet. 2,000 calories a day is used for general nutrition advice.</div>
</body></html>
